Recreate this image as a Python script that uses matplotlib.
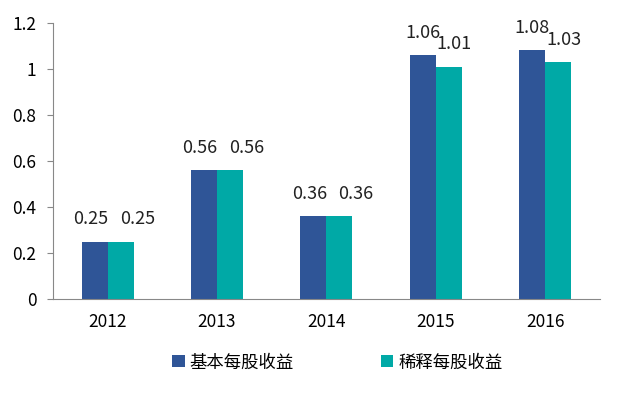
import numpy as np
import matplotlib
matplotlib.use("Agg")
import matplotlib.pyplot as plt

plt.rcParams["font.family"] = ["Noto Sans CJK SC", "DejaVu Sans"]

years = ["2012", "2013", "2014", "2015", "2016"]
basic_eps = [0.25, 0.56, 0.36, 1.06, 1.08]
diluted_eps = [0.25, 0.56, 0.36, 1.01, 1.03]
series_names = ["基本每股收益", "稀释每股收益"]
y_ticks = [0, 0.2, 0.4, 0.6, 0.8, 1, 1.2]
y_tick_labels = ["0", "0.2", "0.4", "0.6", "0.8", "1", "1.2"]

blue = "#2F5597"
teal = "#00A9A6"

fig = plt.figure(figsize=(6.23, 3.94), dpi=100)
ax = fig.add_axes([0.085, 0.241, 0.878, 0.701])

x = np.arange(len(years))
w = 0.238

b1 = ax.bar(x - w / 2, basic_eps, w, color=blue, label=series_names[0])
b2 = ax.bar(x + w / 2, diluted_eps, w, color=teal, label=series_names[1])

# labels: when both bars are equal the labels sit side by side, spread apart
for i in range(len(years)):
    same = basic_eps[i] == diluted_eps[i]
    for rect, v, dx in [(b1[i], basic_eps[i], -3 if same else 0),
                        (b2[i], diluted_eps[i], 12 if same else 4)]:
        ax.annotate(
            "%.2f" % v,
            (rect.get_x() + rect.get_width() / 2, rect.get_height()),
            xytext=(dx, 16),
            textcoords="offset points",
            ha="center",
            va="center",
            fontsize=13,
            color="#222222",
        )

ax.set_xlim(-0.5, 4.5)
ax.set_ylim(0, 1.2)
ax.set_xticks(x)
ax.set_xticklabels(years, fontsize=12.5)
ax.set_yticks(y_ticks)
ax.set_yticklabels(y_tick_labels, fontsize=12.5)
ax.tick_params(axis="x", length=0, pad=10)
ax.tick_params(axis="y", length=4, color="#888888", pad=8)

for s in ["top", "right"]:
    ax.spines[s].set_visible(False)
ax.spines["left"].set_color("#888888")
ax.spines["bottom"].set_color("#888888")

ax.legend(
    loc="upper center",
    bbox_to_anchor=(0.52, -0.14),
    ncol=2,
    frameon=False,
    fontsize=12.5,
    handlelength=0.7,
    handleheight=0.7,
    handletextpad=0.3,
    columnspacing=5.0,
)

fig.savefig("out.png", dpi=100)
